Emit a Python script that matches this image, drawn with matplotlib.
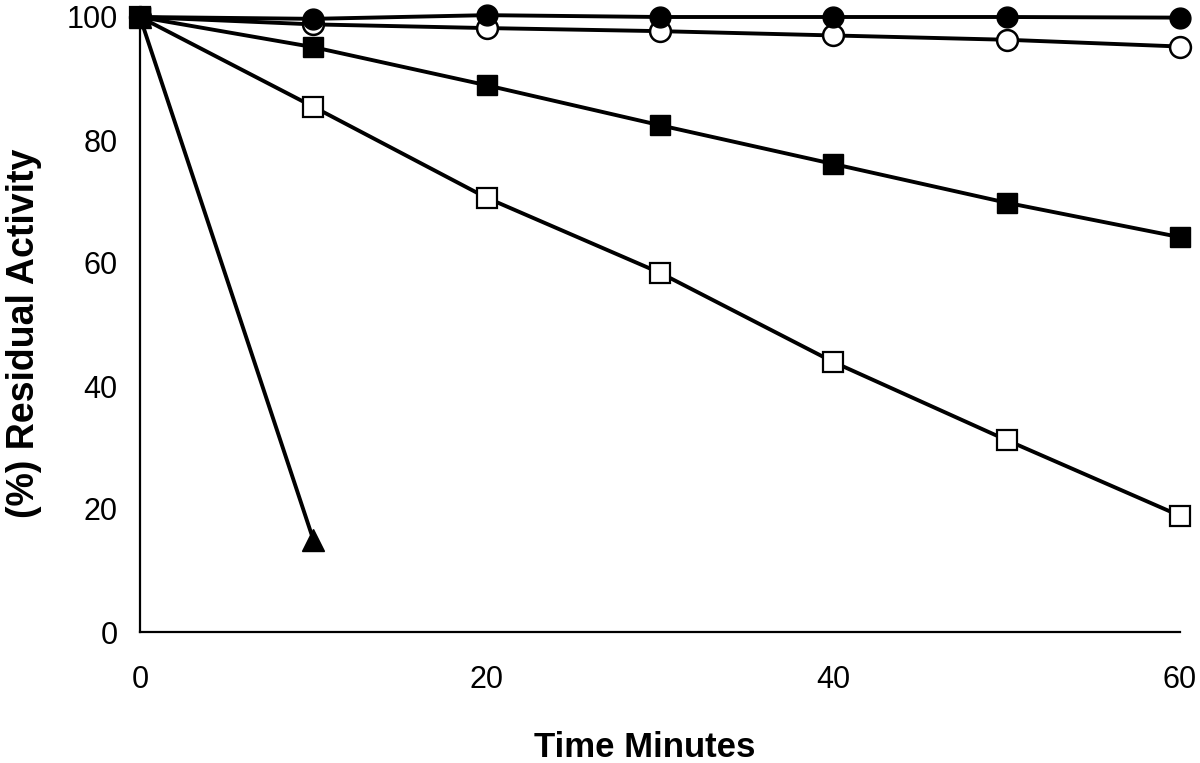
import matplotlib
matplotlib.use("Agg")
import matplotlib.pyplot as plt

time = [0, 10, 20, 30, 40, 50, 60]
filled_circle = [100, 99.7, 100.3, 100, 100, 100, 99.9]
open_circle = [100, 98.8, 98.2, 97.7, 97.0, 96.3, 95.2]
filled_square = [100, 95.1, 88.9, 82.4, 76.1, 69.8, 64.2]
open_square = [100, 85.4, 70.6, 58.4, 43.9, 31.2, 18.9]
time_tri = [0, 10]
triangle = [100, 15]

xticks = [0, 20, 40, 60]
yticks = [0, 20, 40, 60, 80, 100]

plt.rcParams['font.family'] = ['Liberation Sans', 'DejaVu Sans']

fig = plt.figure(figsize=(12, 7.63), dpi=100)
ax = fig.add_axes([140/1200, (763-632)/763, 1040/1200, 615/763])

lw = 2.8
ms = 15
ax.plot(time_tri, triangle, color='black', lw=lw, marker='^', ms=ms+1,
        mfc='black', mec='black', clip_on=False, zorder=3)
ax.plot(time, open_square, color='black', lw=lw, marker='s', ms=ms,
        mfc='white', mec='black', mew=1.6, clip_on=False, zorder=3)
ax.plot(time, filled_square, color='black', lw=lw, marker='s', ms=ms,
        mfc='black', mec='black', clip_on=False, zorder=4)
ax.plot(time, open_circle, color='black', lw=lw, marker='o', ms=ms,
        mfc='white', mec='black', mew=1.8, clip_on=False, zorder=4)
ax.plot(time, filled_circle, color='black', lw=lw, marker='o', ms=ms,
        mfc='black', mec='black', clip_on=False, zorder=5)
# square at 0 on top
ax.plot(time[:1], filled_square[:1], ls='none', marker='s', ms=ms,
        mfc='black', mec='black', clip_on=False, zorder=6)

ax.set_xlim(0, 60)
ax.set_ylim(0, 100)
ax.set_xticks(xticks)
ax.set_yticks(yticks)
ax.tick_params(length=0, labelsize=22)
ax.tick_params(axis='x', pad=24)
ax.tick_params(axis='y', pad=16)
for s in ['top', 'right']:
    ax.spines[s].set_visible(False)
for s in ['left', 'bottom']:
    ax.spines[s].set_linewidth(1.6)

ax.set_xlabel('Time Minutes', fontsize=25, fontweight='bold')
ax.set_ylabel('(%) Residual Activity', fontsize=27, fontweight='bold')
ax.xaxis.set_label_coords((645 - 140) / 1040, -(731 - 632) / 615)
ax.yaxis.set_label_coords(-(140 - 42) / 1040, (632 - 333) / 615)

fig.savefig('out.png', dpi=100)
